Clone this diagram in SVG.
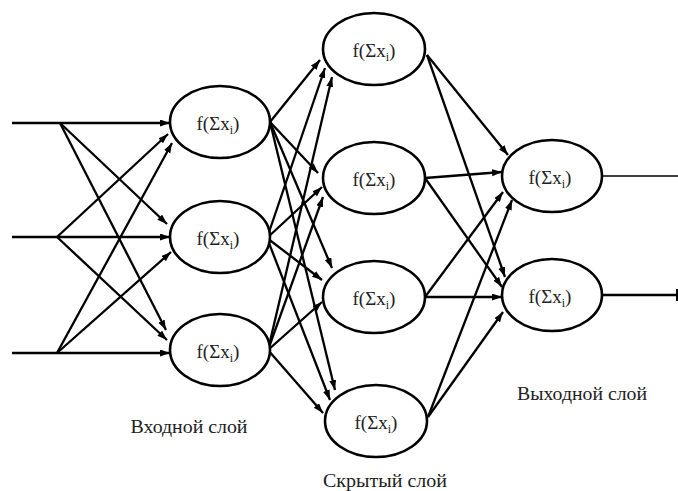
<svg xmlns="http://www.w3.org/2000/svg" width="678" height="491" viewBox="0 0 678 491">
  <style>
    .link { stroke: #000; stroke-width: 2.3; fill: none; }
    .arr { marker-end: url(#head); }
    .neuron ellipse { fill: #fff; stroke: #000; stroke-width: 2.6; }
    .neuron text { font-family: "Liberation Serif", "Times New Roman", "DejaVu Serif", serif; font-size: 19px; fill: #222; text-anchor: middle; }
    .label { font-family: "Liberation Serif", "Times New Roman", "DejaVu Serif", serif; font-size: 19px; fill: #222; text-anchor: middle; }
  </style>
  <defs>
    <marker id="head" markerUnits="userSpaceOnUse" markerWidth="12" markerHeight="8" refX="10" refY="3.5" orient="auto">
      <path d="M0,0 L10,3.5 L0,7 z" fill="#000"/>
    </marker>
  </defs>

  <rect width="678" height="491" fill="#fff"/>

  <g id="connectors">
    <!-- external inputs -->
    <line class="link arr" x1="12" y1="123" x2="170" y2="123"/>
    <line class="link arr" x1="12" y1="237" x2="170" y2="237"/>
    <line class="link arr" x1="12" y1="353" x2="170" y2="353"/>
    <!-- input fan-out -->
    <line class="link arr" x1="60" y1="123" x2="167" y2="224"/>
    <line class="link arr" x1="60" y1="123" x2="166" y2="330"/>
    <line class="link arr" x1="57" y1="237" x2="168" y2="134"/>
    <line class="link arr" x1="57" y1="237" x2="167" y2="340"/>
    <line class="link arr" x1="57" y1="353" x2="172" y2="143"/>
    <line class="link arr" x1="57" y1="353" x2="171" y2="252"/>
    <!-- input layer to hidden layer -->
    <line class="link arr" x1="270" y1="122" x2="320" y2="60"/>
    <line class="link arr" x1="270" y1="122" x2="318" y2="173"/>
    <line class="link arr" x1="270" y1="122" x2="332" y2="268"/>
    <line class="link arr" x1="270" y1="122" x2="335" y2="390"/>
    <line class="link arr" x1="267" y1="238" x2="325" y2="68"/>
    <line class="link arr" x1="267" y1="238" x2="322" y2="187"/>
    <line class="link arr" x1="267" y1="238" x2="322" y2="280"/>
    <line class="link arr" x1="267" y1="238" x2="330" y2="400"/>
    <line class="link arr" x1="268" y1="350" x2="332" y2="77"/>
    <line class="link arr" x1="268" y1="350" x2="323" y2="197"/>
    <line class="link arr" x1="268" y1="350" x2="322" y2="302"/>
    <line class="link arr" x1="268" y1="350" x2="323" y2="413"/>
    <!-- hidden layer to output layer -->
    <line class="link arr" x1="427" y1="55" x2="508" y2="155"/>
    <line class="link arr" x1="427" y1="55" x2="505" y2="277"/>
    <line class="link arr" x1="425" y1="178" x2="502" y2="172"/>
    <line class="link arr" x1="425" y1="178" x2="502" y2="287"/>
    <line class="link arr" x1="425" y1="297" x2="503" y2="192"/>
    <line class="link arr" x1="425" y1="297" x2="502" y2="297"/>
    <line class="link arr" x1="428" y1="417" x2="512" y2="200"/>
    <line class="link arr" x1="428" y1="417" x2="503" y2="312"/>
    <!-- outputs -->
    <line x1="602" y1="176" x2="678" y2="176" stroke="#000" stroke-width="1.5"/>
    <line x1="602" y1="295" x2="677" y2="295" stroke="#000" stroke-width="2.5"/>
    <line x1="677" y1="289" x2="677" y2="301" stroke="#000" stroke-width="2"/>
  </g>

  <!-- input layer -->
  <g id="in1" class="neuron"><ellipse cx="220" cy="122" rx="50" ry="36"/><text x="218" y="130">f(Σx<tspan font-size="12" dy="4">i</tspan><tspan dy="-4">)</tspan></text></g>
  <g id="in2" class="neuron"><ellipse cx="220" cy="237" rx="50" ry="36"/><text x="218" y="245">f(Σx<tspan font-size="12" dy="4">i</tspan><tspan dy="-4">)</tspan></text></g>
  <g id="in3" class="neuron"><ellipse cx="220" cy="350" rx="50" ry="36"/><text x="218" y="358">f(Σx<tspan font-size="12" dy="4">i</tspan><tspan dy="-4">)</tspan></text></g>

  <!-- hidden layer -->
  <g id="h1" class="neuron"><ellipse cx="374" cy="49" rx="51" ry="36"/><text x="374" y="57">f(Σx<tspan font-size="12" dy="4">i</tspan><tspan dy="-4">)</tspan></text></g>
  <g id="h2" class="neuron"><ellipse cx="374" cy="178" rx="51" ry="36"/><text x="374" y="186">f(Σx<tspan font-size="12" dy="4">i</tspan><tspan dy="-4">)</tspan></text></g>
  <g id="h3" class="neuron"><ellipse cx="374" cy="297" rx="51" ry="36"/><text x="374" y="305">f(Σx<tspan font-size="12" dy="4">i</tspan><tspan dy="-4">)</tspan></text></g>
  <g id="h4" class="neuron"><ellipse cx="376" cy="421" rx="51" ry="36"/><text x="376" y="429">f(Σx<tspan font-size="12" dy="4">i</tspan><tspan dy="-4">)</tspan></text></g>

  <!-- output layer -->
  <g id="out1" class="neuron"><ellipse cx="552" cy="176" rx="50" ry="36"/><text x="550" y="184">f(Σx<tspan font-size="12" dy="4">i</tspan><tspan dy="-4">)</tspan></text></g>
  <g id="out2" class="neuron"><ellipse cx="552" cy="295" rx="50" ry="36"/><text x="550" y="303">f(Σx<tspan font-size="12" dy="4">i</tspan><tspan dy="-4">)</tspan></text></g>

  <!-- layer captions -->
  <text class="label" x="189" y="433" textLength="117" lengthAdjust="spacingAndGlyphs">Входной слой</text>
  <text class="label" x="385" y="487" textLength="124" lengthAdjust="spacingAndGlyphs">Скрытый слой</text>
  <text class="label" x="582" y="400" textLength="130" lengthAdjust="spacingAndGlyphs">Выходной слой</text>
</svg>
